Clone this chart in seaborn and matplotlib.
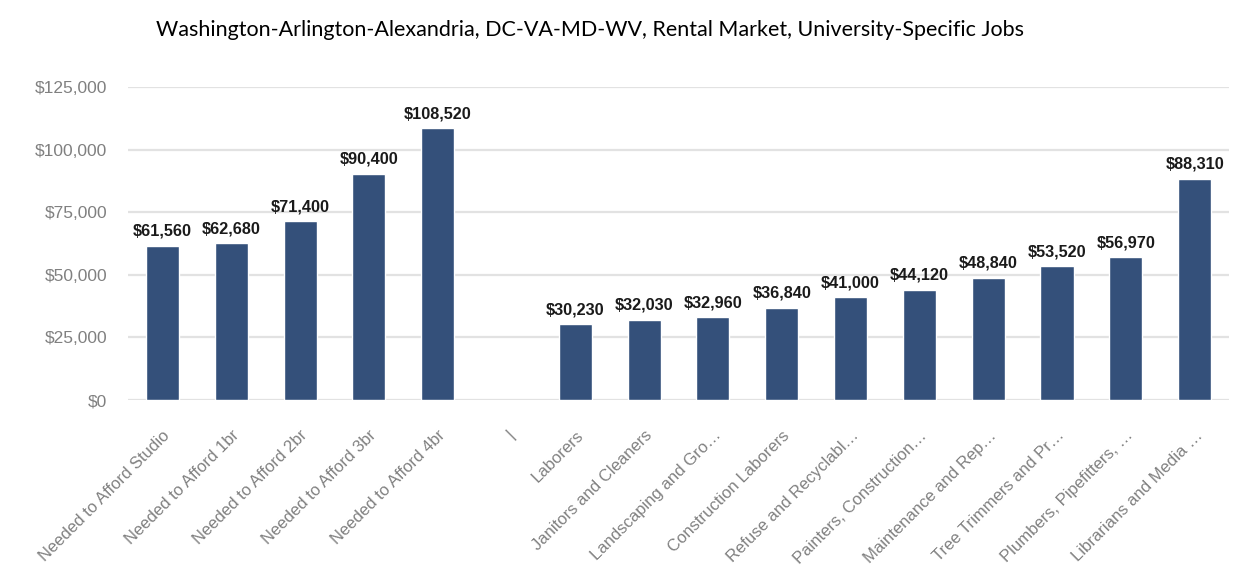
import matplotlib
matplotlib.use("Agg")
import matplotlib.pyplot as plt
import seaborn as sns
import pandas as pd
import numpy as np
from matplotlib.ticker import FuncFormatter

categories = [
    "Needed to Afford Studio", "Needed to Afford 1br", "Needed to Afford 2br",
    "Needed to Afford 3br", "Needed to Afford 4br", "|",
    "Laborers", "Janitors and Cleaners", "Landscaping and Gro\u2026",
    "Construction Laborers", "Refuse and Recyclabl\u2026", "Painters, Construction\u2026",
    "Maintenance and Rep\u2026", "Tree Trimmers and Pr\u2026", "Plumbers, Pipefitters, \u2026",
    "Librarians and Media \u2026",
]
values = [61560, 62680, 71400, 90400, 108520, np.nan,
          30230, 32030, 32960, 36840, 41000, 44120, 48840, 53520, 56970, 88310]
yticks = [0, 25000, 50000, 75000, 100000, 125000]
title = "Washington-Arlington-Alexandria, DC-VA-MD-WV, Rental Market, University-Specific Jobs"

df = pd.DataFrame({"cat": categories, "val": values})

sns.set_style("white")
plt.rcParams["font.family"] = ["Liberation Sans", "DejaVu Sans"]

fig = plt.figure(figsize=(12.59, 5.86), dpi=100)
ax = fig.add_axes([0.1017, 0.3174, 0.8745, 0.5341])

sns.barplot(data=df, x="cat", y="val", color="#34507a", width=0.48,
            saturation=1, ax=ax, zorder=3)

ax.set_xlim(-0.5, len(categories) - 0.5)
ax.set_ylim(0, 125000)
ax.set_yticks(yticks)
ax.yaxis.set_major_formatter(FuncFormatter(lambda v, p: f"${v:,.0f}"))
ax.grid(axis="y", color="#e2e2e2", linewidth=1.6, zorder=0)
ax.set_axisbelow(True)
for s in ax.spines.values():
    s.set_visible(False)
ax.set_xlabel("")
ax.set_ylabel("")
ax.tick_params(axis="both", length=0)
ax.tick_params(axis="y", labelsize=12.5, labelcolor="#808080", pad=15)
ax.tick_params(axis="x", labelsize=12, labelcolor="#808080", pad=20)
for lab in ax.get_xticklabels():
    lab.set_rotation(45)
    lab.set_ha("right")
    lab.set_va("top")
    lab.set_rotation_mode("anchor")

for i, v in enumerate(values):
    if not np.isnan(v):
        ax.annotate(f"${v:,.0f}", (i, v), xytext=(0, 5), textcoords="offset points",
                    ha="center", va="bottom", fontsize=11.7, fontweight="bold",
                    color="#1a1a1a", annotation_clip=False)

fig.text(0.469, 0.949, title, ha="center", va="center", fontsize=15.5,
         family=["Lato", "DejaVu Sans"], color="black")

fig.savefig("out.png", dpi=100, facecolor="white")
